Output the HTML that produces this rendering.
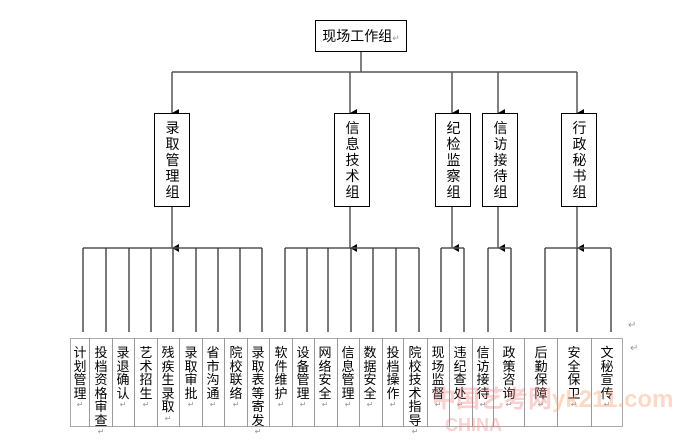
<!DOCTYPE html>
<html><head><meta charset="utf-8"><style>
body{margin:0;width:694px;height:441px;background:#fff;position:relative;overflow:hidden;font-family:"Liberation Sans","Noto Sans CJK SC","WenQuanYi Zen Hei",sans-serif;}
.b{position:absolute;border:1px solid #000;box-sizing:border-box;background:#fff;}
.v{position:absolute;font-size:14px;line-height:16px;width:15px;text-align:center;color:#000;}
.c{position:absolute;top:338px;height:89px;border:1px solid #999;box-sizing:border-box;}
.t{position:absolute;top:346px;font-size:13px;line-height:13.5px;width:14px;text-align:center;}
.r{color:#999;font-size:8px;line-height:9px;display:block;}
</style></head><body>
<svg width="694" height="441" style="position:absolute;left:0;top:0">
<defs><marker id="a" markerWidth="8" markerHeight="8" refX="4" refY="7" orient="auto" markerUnits="userSpaceOnUse"><path d="M0,0 L8,0 L4,7z" fill="#000"/></marker></defs>
<g stroke="#555" stroke-width="1.5" fill="none">
<line x1="361" y1="52" x2="361" y2="72"/>
<line x1="172" y1="72" x2="577" y2="72"/>
<line x1="172" y1="72" x2="172" y2="113" marker-end="url(#a)"/>
<line x1="350" y1="72" x2="350" y2="113" marker-end="url(#a)"/>
<line x1="452" y1="72" x2="452" y2="113" marker-end="url(#a)"/>
<line x1="498" y1="72" x2="498" y2="113" marker-end="url(#a)"/>
<line x1="577" y1="72" x2="577" y2="113" marker-end="url(#a)"/>
<line x1="172" y1="207" x2="172" y2="248" marker-end="url(#a)"/>
<line x1="350" y1="207" x2="350" y2="248" marker-end="url(#a)"/>
<line x1="452" y1="207" x2="452" y2="248" marker-end="url(#a)"/>
<line x1="498" y1="207" x2="498" y2="248" marker-end="url(#a)"/>
<line x1="577" y1="207" x2="577" y2="248" marker-end="url(#a)"/>
<line x1="83" y1="248" x2="262" y2="248"/>
<line x1="285" y1="248" x2="419" y2="248"/>
<line x1="441" y1="248" x2="464" y2="248"/>
<line x1="488" y1="248" x2="511" y2="248"/>
<line x1="545" y1="248" x2="611" y2="248"/>
</g>
<g stroke="#333" stroke-width="1.3">
<line x1="83" y1="248" x2="83" y2="332"/><line x1="106" y1="248" x2="106" y2="332"/><line x1="129" y1="248" x2="129" y2="332"/><line x1="151" y1="248" x2="151" y2="332"/><line x1="173" y1="248" x2="173" y2="332"/><line x1="196" y1="248" x2="196" y2="332"/><line x1="218" y1="248" x2="218" y2="332"/><line x1="240" y1="248" x2="240" y2="332"/><line x1="262" y1="248" x2="262" y2="332"/>
<line x1="285" y1="248" x2="285" y2="332"/><line x1="307" y1="248" x2="307" y2="332"/><line x1="328" y1="248" x2="328" y2="332"/><line x1="351" y1="248" x2="351" y2="332"/><line x1="373" y1="248" x2="373" y2="332"/><line x1="396" y1="248" x2="396" y2="332"/><line x1="419" y1="248" x2="419" y2="332"/>
<line x1="441" y1="248" x2="441" y2="332"/><line x1="464" y1="248" x2="464" y2="332"/>
<line x1="488" y1="248" x2="488" y2="332"/><line x1="511" y1="248" x2="511" y2="332"/>
<line x1="545" y1="248" x2="545" y2="332"/><line x1="577" y1="248" x2="577" y2="332"/><line x1="611" y1="248" x2="611" y2="332"/>
</g>
</svg>
<div class="b" style="left:315px;top:20px;width:92px;height:32px;font-size:14px;line-height:30px;text-align:center">现场工作组<span style="color:#999;font-size:9px">↵</span></div>
<div class="b" style="left:154px;top:113px;width:36px;height:94px"></div>
<div class="b" style="left:334px;top:113px;width:36px;height:94px"></div>
<div class="b" style="left:435px;top:113px;width:36px;height:94px"></div>
<div class="b" style="left:482px;top:113px;width:36px;height:94px"></div>
<div class="b" style="left:561px;top:113px;width:36px;height:94px"></div>
<div class="v" style="left:165px;top:120px">录取管理组</div>
<div class="v" style="left:345px;top:120px">信息技术组</div>
<div class="v" style="left:446px;top:120px">纪检监察组</div>
<div class="v" style="left:493px;top:120px">信访接待组</div>
<div class="v" style="left:572px;top:120px">行政秘书组</div>
<div class="c" style="left:70px;width:553px;border-color:#aaa"></div>
<div class="c" style="left:89px;width:1px;border-width:0 0 0 1px"></div>
<div class="c" style="left:112px;width:1px;border-width:0 0 0 1px"></div>
<div class="c" style="left:134px;width:1px;border-width:0 0 0 1px"></div>
<div class="c" style="left:157px;width:1px;border-width:0 0 0 1px"></div>
<div class="c" style="left:179px;width:1px;border-width:0 0 0 1px"></div>
<div class="c" style="left:202px;width:1px;border-width:0 0 0 1px"></div>
<div class="c" style="left:224px;width:1px;border-width:0 0 0 1px"></div>
<div class="c" style="left:247px;width:1px;border-width:0 0 0 1px"></div>
<div class="c" style="left:269px;width:1px;border-width:0 0 0 1px"></div>
<div class="c" style="left:292px;width:1px;border-width:0 0 0 1px"></div>
<div class="c" style="left:314px;width:1px;border-width:0 0 0 1px"></div>
<div class="c" style="left:337px;width:1px;border-width:0 0 0 1px"></div>
<div class="c" style="left:359px;width:1px;border-width:0 0 0 1px"></div>
<div class="c" style="left:382px;width:1px;border-width:0 0 0 1px"></div>
<div class="c" style="left:403px;width:1px;border-width:0 0 0 1px"></div>
<div class="c" style="left:427px;width:1px;border-width:0 0 0 1px"></div>
<div class="c" style="left:449px;width:1px;border-width:0 0 0 1px"></div>
<div class="c" style="left:472px;width:1px;border-width:0 0 0 1px"></div>
<div class="c" style="left:493px;width:1px;border-width:0 0 0 1px"></div>
<div class="c" style="left:524px;width:1px;border-width:0 0 0 1px"></div>
<div class="c" style="left:557px;width:1px;border-width:0 0 0 1px"></div>
<div class="c" style="left:591px;width:1px;border-width:0 0 0 1px"></div>
<div class="t" style="left:73px">计划管理<span class="r">↵</span></div>
<div class="t" style="left:94px">投档资格审查<span class="r">↵</span></div>
<div class="t" style="left:116px">录退确认<span class="r">↵</span></div>
<div class="t" style="left:139px">艺术招生<span class="r">↵</span></div>
<div class="t" style="left:161px">残疾生录取<span class="r">↵</span></div>
<div class="t" style="left:184px">录取审批<span class="r">↵</span></div>
<div class="t" style="left:206px">省市沟通<span class="r">↵</span></div>
<div class="t" style="left:229px">院校联络<span class="r">↵</span></div>
<div class="t" style="left:251px">录取表等寄发<span class="r">↵</span></div>
<div class="t" style="left:274px">软件维护<span class="r">↵</span></div>
<div class="t" style="left:296px">设备管理<span class="r">↵</span></div>
<div class="t" style="left:318px">网络安全<span class="r">↵</span></div>
<div class="t" style="left:341px">信息管理<span class="r">↵</span></div>
<div class="t" style="left:363px">数据安全<span class="r">↵</span></div>
<div class="t" style="left:386px">投档操作<span class="r">↵</span></div>
<div class="t" style="left:408px">院校技术指导<span class="r">↵</span></div>
<div class="t" style="left:431px">现场监督<span class="r">↵</span></div>
<div class="t" style="left:453px">违纪查处<span class="r">↵</span></div>
<div class="t" style="left:476px">信访接待<span class="r">↵</span></div>
<div class="t" style="left:502px">政策咨询<span class="r">↵</span></div>
<div class="t" style="left:534px">后勤保障<span class="r">↵</span></div>
<div class="t" style="left:567px">安全保卫<span class="r">↵</span></div>
<div class="t" style="left:600px">文秘宣传<span class="r">↵</span></div>
<div style="position:absolute;left:628px;top:320px;color:#999;font-size:10px">↵</div>
<div style="position:absolute;left:630px;top:343px;color:#999;font-size:10px">↵</div>
<div style="position:absolute;left:432px;top:385px;font-size:24px;line-height:30px;font-weight:bold;white-space:nowrap;color:rgba(240,120,120,0.35)">中国艺考网<span style="color:rgba(250,160,110,0.4)">yk211.com</span></div>
<div style="position:absolute;left:445px;top:415px;font-size:18px;line-height:20px;font-weight:bold;white-space:nowrap;color:rgba(240,120,120,0.35)">CHINA</div>
</body></html>
